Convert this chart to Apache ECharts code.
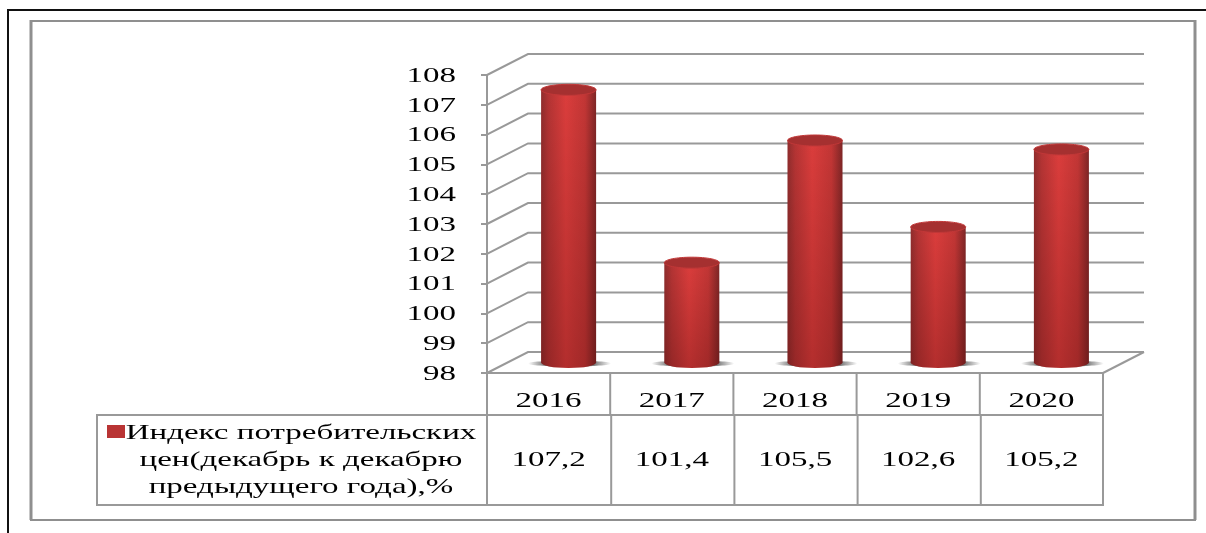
<!DOCTYPE html>
<html>
<head>
<meta charset="utf-8">
<style>
  html, body { margin: 0; padding: 0; background: #fff; }
  /* the source picture is a soft scan, so a touch of blur */
  #chart { width: 1206px; height: 533px; filter: blur(0.6px); }
</style>
<script src="https://cdn.jsdelivr.net/npm/echarts@6/dist/echarts.min.js"></script>
</head>
<body>
<div id="chart"></div>
<script>
const years = ['2016', '2017', '2018', '2019', '2020'];
const cpiValues = [107.2, 101.4, 105.5, 102.6, 105.2];
const cpiLabels = ['107,2', '101,4', '105,5', '102,6', '105,2'];
const yTicks = [98, 99, 100, 101, 102, 103, 104, 105, 106, 107, 108];
const seriesNameLines = ['Индекс потребительских', 'цен(декабрь к декабрю', 'предыдущего года),%'];

const GREY = '#999';
const FONT = '22px "Liberation Serif"';
const STRETCH = 1.5;
const DEPTH_X = 41, DEPTH_Y = 21;

function lineEl(x1, y1, x2, y2, width, color) {
  return {
    type: 'line',
    shape: { x1, y1, x2, y2 },
    style: { stroke: color || GREY, lineWidth: width || 2 }
  };
}

function textEl(text, x, y, align) {
  return {
    type: 'text',
    x, y,
    scaleX: STRETCH,
    style: { text, x: 0, y: 0, align: align || 'center', verticalAlign: 'middle', font: FONT, fill: '#000' }
  };
}

// gridlines bent over the left wall, plus the tick labels
function renderWall(params, api) {
  const tick = api.value(1);
  const box = params.coordSys;
  const y = api.coord([0, tick])[1];
  const children = [
    { type: 'polyline',
      shape: { points: [[box.x, y], [box.x + DEPTH_X, y - DEPTH_Y], [box.x + box.width + DEPTH_X, y - DEPTH_Y]] },
      style: { stroke: GREY, lineWidth: 2, fill: null } },
    textEl(String(tick), box.x - 31, y + 1, 'right')
  ];
  if (tick === yTicks[0]) {
    children.push(lineEl(box.x, y, box.x + box.width, y));
    children.push(lineEl(box.x + box.width, y, box.x + box.width + DEPTH_X, y - DEPTH_Y));
  }
  return { type: 'group', children };
}

function renderCylinder(params, api) {
  const top = api.coord([api.value(0), api.value(1)]);
  const base = api.coord([api.value(0), yTicks[0]]);
  const cx = top[0] + DEPTH_X / 2 - 0.5;
  const yTop = top[1] - DEPTH_Y / 2 + 1.5;
  const yBase = base[1] - DEPTH_Y / 2;
  const rx = 27.5, ry = 5.5;
  const shell = {
    type: 'path',
    shape: {
      pathData: `M ${cx - rx} ${yTop} L ${cx - rx} ${yBase} A ${rx} ${ry} 0 0 0 ${cx + rx} ${yBase} L ${cx + rx} ${yTop} Z`
    }
  };
  const side = new echarts.graphic.LinearGradient(0, 0, 1, 0, [
    { offset: 0, color: '#8f2d2d' },
    { offset: 0.14, color: '#b43434' },
    { offset: 0.45, color: '#db3d3c' },
    { offset: 0.8, color: '#c23635' },
    { offset: 1, color: '#7e2626' }
  ]);
  const fade = new echarts.graphic.LinearGradient(0, 0, 0, 1, [
    { offset: 0, color: 'rgba(60,0,0,0)' },
    { offset: 1, color: 'rgba(60,0,0,0.25)' }
  ]);
  const shadow = new echarts.graphic.LinearGradient(0, 0, 1, 0, [
    { offset: 0, color: 'rgba(90,90,90,0)' },
    { offset: 0.2, color: 'rgba(90,90,90,0.8)' },
    { offset: 0.8, color: 'rgba(90,90,90,0.8)' },
    { offset: 1, color: 'rgba(90,90,90,0)' }
  ]);
  return {
    type: 'group',
    children: [
      { type: 'ellipse', shape: { cx: cx + 1, cy: yBase + 1, rx: rx + 14, ry: 3 }, style: { fill: shadow } },
      Object.assign({}, shell, { style: { fill: side } }),
      Object.assign({}, shell, { style: { fill: fade } }),
      { type: 'ellipse', shape: { cx, cy: yTop, rx, ry },
        style: { fill: '#a53030', stroke: '#c23838', lineWidth: 1 } }
    ]
  };
}

// data table under the plot: year row and value row
const YEAR_ROW_BOTTOM = 415, TABLE_BOTTOM = 505;

function renderTableCol(params, api) {
  const i = params.dataIndex;
  const box = params.coordSys;
  const band = box.width / years.length;
  const cx = api.coord([i, yTicks[0]])[0];
  const right = box.x + band * (i + 1);
  const lowerRight = i < years.length - 1 ? right + 1 : right;
  return {
    type: 'group',
    children: [
      lineEl(right, box.y + box.height, right, YEAR_ROW_BOTTOM),
      lineEl(lowerRight, YEAR_ROW_BOTTOM, lowerRight, TABLE_BOTTOM),
      textEl(years[i], cx, 401),
      textEl(cpiLabels[i], cx, 460)
    ]
  };
}

const chart = echarts.init(document.getElementById('chart'));
chart.setOption({
  animation: false,
  backgroundColor: '#fff',
  grid: { left: 487, top: 75, width: 616, height: 298 },
  xAxis: {
    type: 'category',
    data: years,
    axisLine: { show: false },
    axisTick: { show: false },
    axisLabel: { show: false }
  },
  yAxis: {
    type: 'value',
    min: 98,
    max: 108,
    interval: 1,
    splitLine: { show: false },
    axisLine: { show: true, lineStyle: { color: GREY, width: 2 } },
    axisTick: { show: true, length: 6, lineStyle: { color: GREY, width: 2 } },
    axisLabel: { show: false }
  },
  graphic: [
    // page frame
    { type: 'polyline', silent: true, shape: { points: [[8, 533], [8, 10], [1206, 10]] },
      style: { stroke: '#111', lineWidth: 2, fill: null } },
    // chart area frame, heavier on the left and right
    { type: 'rect', silent: true, shape: { x: 31, y: 21, width: 1164, height: 499 },
      style: { stroke: '#8f8f8f', lineWidth: 2, fill: null } },
    { type: 'line', silent: true, shape: { x1: 31, y1: 20, x2: 31, y2: 520 },
      style: { stroke: '#8f8f8f', lineWidth: 3 } },
    { type: 'line', silent: true, shape: { x1: 1195, y1: 20, x2: 1195, y2: 520 },
      style: { stroke: '#8f8f8f', lineWidth: 3 } },
    // table outline and series name
    { type: 'polyline', silent: true,
      shape: { points: [[487, 415], [97, 415], [97, 505], [1103, 505], [1103, 373]] },
      style: { stroke: GREY, lineWidth: 2, fill: null } },
    { type: 'line', silent: true, shape: { x1: 487, y1: 415, x2: 1103, y2: 415 },
      style: { stroke: GREY, lineWidth: 2 } },
    { type: 'line', silent: true, shape: { x1: 487, y1: 373, x2: 487, y2: 505 },
      style: { stroke: GREY, lineWidth: 2 } },
    { type: 'rect', silent: true, shape: { x: 107, y: 425, width: 18, height: 13 },
      style: { fill: '#b93434' } },
    textEl(seriesNameLines[0], 301, 433),
    textEl(seriesNameLines[1], 301, 460),
    textEl(seriesNameLines[2], 301, 487)
  ],
  series: [
    {
      type: 'custom',
      name: 'wall',
      silent: true,
      z: 1,
      encode: { x: 0, y: 1 },
      data: yTicks.map(t => [0, t]),
      renderItem: renderWall
    },
    {
      type: 'custom',
      name: 'Индекс потребительских цен(декабрь к декабрю предыдущего года),%',
      silent: true,
      z: 3,
      encode: { x: 0, y: 1 },
      data: cpiValues.map((v, i) => [i, v]),
      renderItem: renderCylinder
    },
    {
      type: 'custom',
      name: 'table',
      silent: true,
      z: 2,
      encode: { x: 0, y: 1 },
      data: years.map((y, i) => [i, yTicks[0]]),
      renderItem: renderTableCol
    }
  ]
});
</script>
</body>
</html>
